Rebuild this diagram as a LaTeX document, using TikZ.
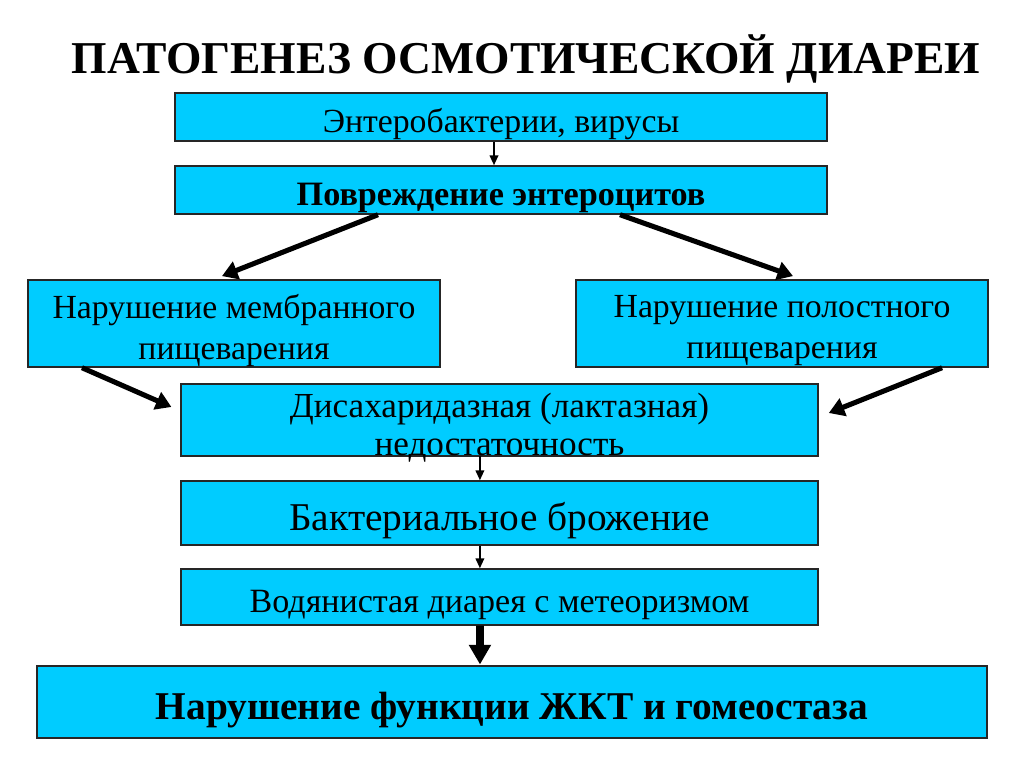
\documentclass[tikz,border=0pt]{standalone}
\usepackage{fontspec}
\setmainfont{Liberation Serif}
\usetikzlibrary{calc,positioning,arrows.meta}
\definecolor{boxcyan}{RGB}{0,204,255}

\begin{document}
\begin{tikzpicture}[x=0.025cm,y=-0.025cm,
    box/.style={draw=black!85,line width=1pt,fill=boxcyan,inner sep=0pt,text height=22pt,text depth=0pt},
    plainbox/.style={draw=black!85,line width=1pt,fill=boxcyan,inner sep=0pt},
    thinarrow/.style={-{Triangle[length=7pt,width=6pt]},line width=1.4pt},
    fatarrow/.style={-{Triangle[length=11pt,width=13pt]},line width=3.6pt}]
                    \useasboundingbox (0,0) rectangle (1024,768);
                    \node[font=\fontsize{32.4}{38}\selectfont\bfseries] (title) at (526,59) {ПАТОГЕНЕЗ ОСМОТИЧЕСКОЙ ДИАРЕИ};
                    \node[box,font=\fontsize{24}{28}\selectfont,minimum width=16.3cm,minimum height=1.2cm] (agents) at (501,117) {Энтеробактерии, вирусы};
                    \node[box,font=\fontsize{24.3}{28}\selectfont\bfseries,minimum width=16.3cm,minimum height=1.2cm] (damage) at (501,190) {Повреждение энтероцитов};
                    \node[plainbox,minimum width=10.3cm,minimum height=2.175cm] (membr) at (234,323.5) {};
                    \node[font=\fontsize{24}{29}\selectfont,align=center] (membrtext) at (234,330.5) {Нарушение мембранного\\пищеварения};
                    \node[plainbox,minimum width=10.3cm,minimum height=2.175cm] (cavity) at (782,323.5) {};
                    \node[font=\fontsize{24}{29}\selectfont,align=center] (cavitytext) at (782,330.5) {Нарушение полостного\\пищеварения};
                    \node[plainbox,minimum width=15.925cm,minimum height=1.8cm] (enzyme) at (499.5,420) {};
                    \node[font=\fontsize{25}{27}\selectfont,align=center] (enzymetext) at (499.5,428) {Дисахаридазная (лактазная)\\недостаточность};
                    \node[box,text height=25pt,font=\fontsize{28}{32}\selectfont,minimum width=15.925cm,minimum height=1.6cm] (ferment) at (499.5,513) {Бактериальное брожение};
                    \node[box,font=\fontsize{24.2}{30}\selectfont,minimum width=15.925cm,minimum height=1.4cm] (watery) at (499.5,597) {Водянистая диарея с метеоризмом};
                    \node[box,text height=25pt,font=\fontsize{28}{32}\selectfont\bfseries,minimum width=23.75cm,minimum height=1.8cm] (gut) at (512,702) {Нарушение функции ЖКТ и гомеостаза};
                    % connectors
                    \draw[thinarrow] ([xshift=-0.175cm]agents.south) -- ([xshift=-0.175cm]damage.north);
                    \draw[fatarrow] ([xshift=-3.075cm]damage.south) -- ([xshift=-0.3cm,yshift=0.08cm]membr.north);
                    \draw[fatarrow] ([xshift=2.975cm]damage.south) -- ([xshift=0.275cm,yshift=0.08cm]cavity.north);
                    \draw[fatarrow] ([xshift=-3.8cm]membr.south) -- ([xshift=-0.22cm,yshift=0.325cm]enzyme.west);
                    \draw[fatarrow] ([xshift=4cm]cavity.south) -- ([xshift=0.25cm,yshift=0.175cm]enzyme.east);
                    \draw[thinarrow] ([xshift=-0.49cm,yshift=0.03cm]enzyme.south) -- ([xshift=-0.49cm]ferment.north);
                    \draw[thinarrow] ([xshift=-0.49cm]ferment.south) -- ([xshift=-0.49cm]watery.north);
                    \draw[-{Triangle[length=14pt,width=15pt]},line width=5.5pt] ([xshift=-0.49cm]watery.south) -- ([xshift=-0.8cm,yshift=0.02cm]gut.north);
                \end{tikzpicture}
\end{document}
